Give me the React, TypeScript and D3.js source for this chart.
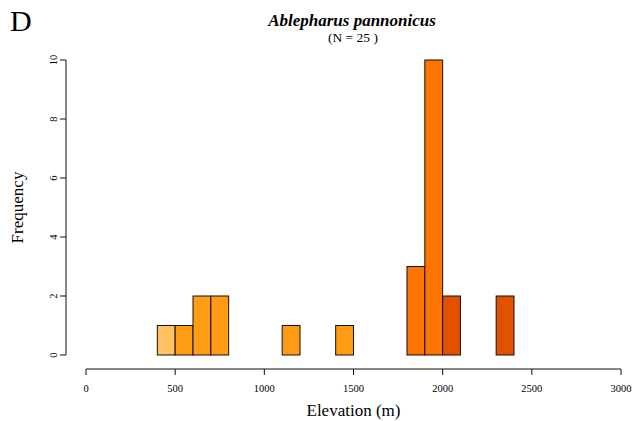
import React from "react";
import * as d3 from "d3";

// histogram bins, 100 m wide, 0 - 3000 m
const binStarts = d3.range(0, 3000, 100);
const binCounts = [
	0, 0, 0, 0, 1, 1, 2, 2, 0, 0, 0, 1, 0, 0, 1, 0, 0, 0, 3, 10, 2, 0, 0, 2, 0, 0,
	0, 0, 0, 0,
];
// colour class for each bin (0 light .. 3 dark)
const binClass = [
	0, 0, 0, 0, 0, 1, 1, 1, 1, 1, 1, 1, 1, 1, 1, 1, 1, 1, 2, 2, 3, 3, 3, 3, 3, 3,
	3, 3, 3, 3,
];
const palette = ["#FFC25E", "#FF9C14", "#FF7300", "#E15100"];

const xTicks = [0, 500, 1000, 1500, 2000, 2500, 3000];
const yTicks = [0, 2, 4, 6, 8, 10];

const W = 633;
const H = 421;
const font = "'Liberation Serif', 'DejaVu Serif', serif";

export default function App() {
	const x = d3.scaleLinear().domain([0, 3000]).range([86, 621]);
	const y = d3.scaleLinear().domain([0, 10]).range([355, 60]);
	const axisY = 369;
	const axisX = 66;

	return (
		<svg
			width={W}
			height={H}
			style={{ position: "absolute", left: 0, top: 0, background: "#fff" }}
			fontFamily={font}
		>
			<text x={10} y={31} fontSize={30}>
				D
			</text>
			<text
				x={352}
				y={26}
				textAnchor="middle"
				fontSize={17}
				fontWeight="bold"
				fontStyle="italic"
			>
				Ablepharus pannonicus
			</text>
			<text x={353} y={42} textAnchor="middle" fontSize={13.5}>
				(N = 25 )
			</text>

			{/* bars */}
			{binStarts.map((b, i) => (
				<rect
					key={b}
					x={x(b)}
					y={y(binCounts[i])}
					width={x(b + 100) - x(b)}
					height={y(0) - y(binCounts[i])}
					fill={palette[binClass[i]]}
					stroke="#111"
					strokeWidth={1}
				/>
			))}

			{/* x axis */}
			<line x1={x(0)} x2={x(3000)} y1={axisY} y2={axisY} stroke="#111" />
			{xTicks.map((t) => (
				<g key={t}>
					<line x1={x(t)} x2={x(t)} y1={axisY} y2={axisY + 6} stroke="#111" />
					<text x={x(t)} y={axisY + 23} textAnchor="middle" fontSize={10.5}>
						{t}
					</text>
				</g>
			))}
			<text x={x(1500)} y={416} textAnchor="middle" fontSize={17}>
				Elevation (m)
			</text>

			{/* y axis */}
			<line x1={axisX} x2={axisX} y1={y(0)} y2={y(10)} stroke="#111" />
			{yTicks.map((t) => (
				<g key={t}>
					<line x1={axisX} x2={axisX - 6} y1={y(t)} y2={y(t)} stroke="#111" />
					<text
						transform={`translate(${axisX - 9},${y(t)}) rotate(-90)`}
						textAnchor="middle"
						fontSize={10.5}
					>
						{t}
					</text>
				</g>
			))}
			<text
				transform={`translate(23,${y(5)}) rotate(-90)`}
				textAnchor="middle"
				fontSize={17}
			>
				Frequency
			</text>
		</svg>
	);
}
